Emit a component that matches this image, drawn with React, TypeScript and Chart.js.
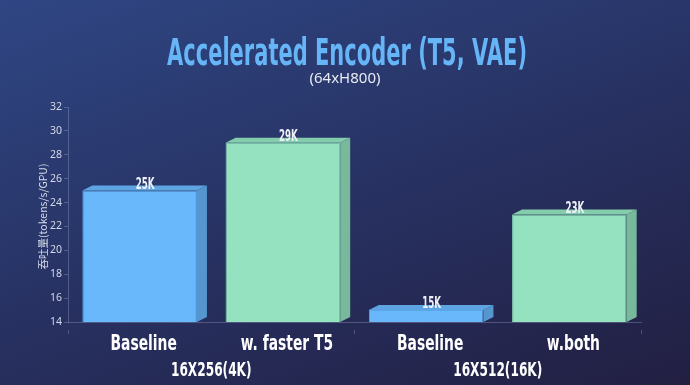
import React, { useEffect, useRef } from "react";
import { Chart, registerables } from "chart.js";

Chart.register(...registerables);

const titleText = "Accelerated Encoder (T5, VAE)";
const subtitleText = "(64xH800)";
const yTitle = "吞吐量(tokens/s/GPU)";
const categories = ["Baseline", "w. faster T5", "Baseline", "w.both"];
const groups = ["16X256(4K)", "16X512(16K)"];
const values = [25, 29, 15, 23];
const valueLabels = ["25K", "29K", "15K", "23K"];
const yTicks = [14, 16, 18, 20, 22, 24, 26, 28, 30, 32];

const FONT = "'DejaVu Sans', sans-serif";

const FRONT = ["#6ab8fc", "#95e2c1", "#6ab8fc", "#95e2c1"];
const EDGE = ["#5aa6ea", "#86d3b2", "#5aa6ea", "#86d3b2"];
const TOP = ["#5ea4e2", "#84cdac", "#5ea4e2", "#84cdac"];
const SIDE = ["#5596cf", "#78b99c", "#5596cf", "#78b99c"];

function condText(
  ctx: CanvasRenderingContext2D,
  text: string,
  x: number,
  y: number,
  size: number,
  sx: number,
  color: string
) {
  ctx.save();
  ctx.font = `bold ${size}px ${FONT}`;
  ctx.translate(x, y);
  ctx.scale(sx, 1);
  ctx.textAlign = "center";
  ctx.textBaseline = "alphabetic";
  ctx.fillStyle = color;
  ctx.fillText(text, 0, 0);
  ctx.restore();
}

const box3d = {
  id: "box3d",
  afterDatasetsDraw(chart: any) {
    const ctx = chart.ctx;
    const area = chart.chartArea;
    const meta = chart.getDatasetMeta(0);
    const dx = 10;
    const dy = 5;
    meta.data.forEach((bar: any, i: number) => {
      const p = bar.getProps(["x", "y", "base", "width"], true);
      const l = p.x - p.width / 2;
      const r = p.x + p.width / 2;
      const t = p.y;
      const b = Math.min(p.base, area.bottom);
      ctx.save();
      ctx.fillStyle = TOP[i];
      ctx.beginPath();
      ctx.moveTo(l, t);
      ctx.lineTo(l + dx, t - dy);
      ctx.lineTo(r + dx, t - dy);
      ctx.lineTo(r, t);
      ctx.closePath();
      ctx.fill();
      ctx.fillStyle = SIDE[i];
      ctx.beginPath();
      ctx.moveTo(r, t);
      ctx.lineTo(r + dx, t - dy);
      ctx.lineTo(r + dx, b - dy);
      ctx.lineTo(r, b);
      ctx.closePath();
      ctx.fill();
      ctx.restore();
      condText(ctx, valueLabels[i], p.x + dx / 2 + 0.5, t - 2, 15, 0.58, "#eef0f8");
    });
  },
};

const textLayer = {
  id: "textLayer",
  afterDraw(chart: any) {
    const ctx = chart.ctx;
    const w = chart.width;
    const area = chart.chartArea;
    // title
    ctx.save();
    ctx.font = `bold 37px ${FONT}`;
    const tw = ctx.measureText(titleText).width;
    ctx.restore();
    condText(ctx, titleText, w / 2 + 2, 65, 37, 360 / tw, "#66b5f7");
    // subtitle
    ctx.save();
    ctx.font = `15px 'Noto Sans', sans-serif`;
    ctx.fillStyle = "#e8eaf2";
    ctx.textAlign = "center";
    ctx.textBaseline = "middle";
    ctx.fillText(subtitleText, w / 2, 79);
    ctx.restore();
    // y title
    ctx.save();
    ctx.translate(43, (area.top + area.bottom) / 2 + 2);
    ctx.rotate(-Math.PI / 2);
    ctx.font = `10.5px 'Noto Sans CJK SC', 'Noto Sans', sans-serif`;
    ctx.fillStyle = "#d8dcea";
    ctx.textAlign = "center";
    ctx.textBaseline = "middle";
    ctx.fillText(yTitle, 0, 0);
    ctx.restore();
    // category labels
    const x = chart.scales.x;
    const x2 = chart.scales.x2;
    categories.forEach((c, i) => {
      condText(ctx, c, x.getPixelForValue(i) + 4, area.bottom + 28, 21, 0.66, "#ffffff");
    });
    groups.forEach((g, i) => {
      condText(ctx, g, x2.getPixelForValue(i), area.bottom + 54, 19, 0.64, "#ffffff");
    });
  },
};

export default function App() {
  const ref = useRef<HTMLCanvasElement | null>(null);
  useEffect(() => {
    if (!ref.current) return;
    const chart = new Chart(ref.current, {
      type: "bar",
      data: {
        labels: categories,
        datasets: [
          {
            data: values,
            backgroundColor: FRONT,
            borderColor: EDGE,
            borderWidth: 1,
            barPercentage: 0.8,
            categoryPercentage: 1.0,
          },
        ],
      },
      options: {
        animation: false,
        responsive: false,
        maintainAspectRatio: false,
        layout: { padding: { left: 48, right: 49, top: 107, bottom: 51 } },
        plugins: {
          legend: { display: false },
          tooltip: { enabled: false },
          title: { display: false },
        },
        scales: {
          x: {
            type: "category",
            offset: true,
            grid: { display: false },
            border: { display: true, color: "rgba(160,170,200,0.35)" },
            ticks: { display: false },
          },
          x2: {
            type: "category",
            labels: groups,
            offset: true,
            position: "bottom",
            grid: { drawOnChartArea: false, tickLength: 4, color: "rgba(160,170,200,0.35)" },
            border: { display: false },
            ticks: { display: false },
          },
          y: {
            min: 14,
            max: 32,
            afterBuildTicks: (axis: any) => {
              axis.ticks = yTicks.map((v) => ({ value: v }));
            },
            grid: { drawOnChartArea: false, tickLength: 4, color: "rgba(160,170,200,0.35)" },
            border: { display: true, color: "rgba(160,170,200,0.35)" },
            ticks: {
              color: "#d4d8e8",
              font: { family: "'Noto Sans', sans-serif", size: 10.5 },
              padding: 2,
            },
          },
        },
      },
      plugins: [box3d, textLayer],
    });
    return () => chart.destroy();
  }, []);
  return (
    <div
      style={{
        position: "absolute",
        left: 0,
        top: 0,
        width: 690,
        height: 385,
        background: "linear-gradient(160deg, #2f4684 0%, #283466 45%, #221f42 100%)",
      }}
    >
      <canvas ref={ref} width={690} height={385} style={{ display: "block" }} />
    </div>
  );
}
